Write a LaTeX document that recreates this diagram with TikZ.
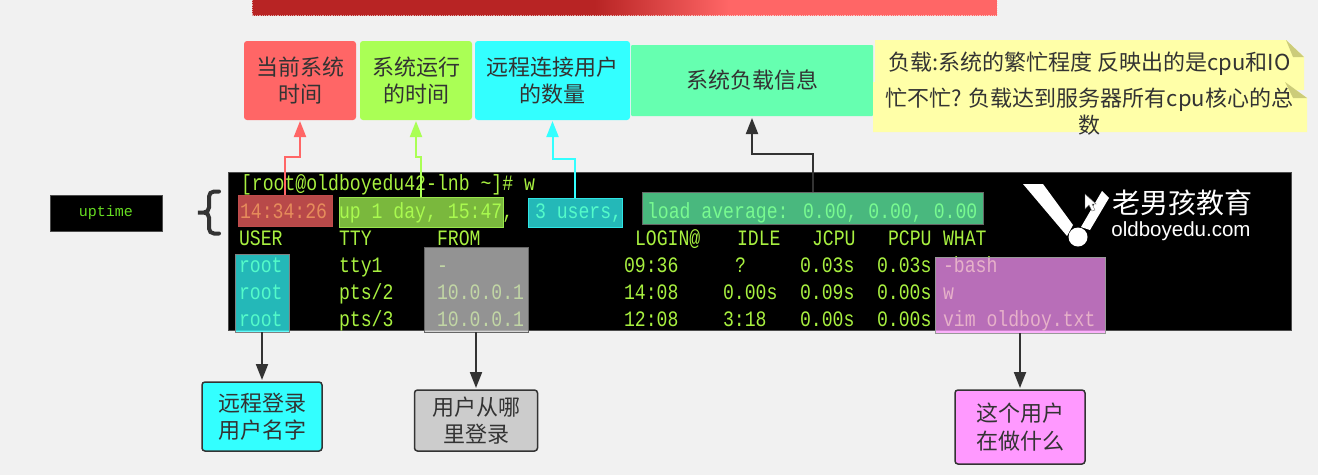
\documentclass[tikz,border=0pt]{standalone}
\usepackage{fontspec}
\setmainfont{Noto Sans CJK SC}
\newfontfamily\termfont[FakeStretch=0.825]{Liberation Mono}
\newfontfamily\upfont{Liberation Mono}
\newfontfamily\logofont{Liberation Sans}
\usetikzlibrary{arrows.meta,shapes.geometric}
\definecolor{bgc}{HTML}{F1F1F1}
\definecolor{ink}{HTML}{333333}
\definecolor{termgreen}{HTML}{A8F040}
\definecolor{cred}{HTML}{FF6666}
\definecolor{cgreen}{HTML}{AAFF55}
\definecolor{ccyan}{HTML}{33FFFF}
\definecolor{cmint}{HTML}{66FFB0}
\definecolor{cnote}{HTML}{FFFFA8}
\definecolor{cfold}{HTML}{CCCC7A}
\definecolor{cgray}{HTML}{CCCCCC}
\definecolor{cpink}{HTML}{FF99FF}
\definecolor{cup}{HTML}{66DD22}
\definecolor{barA}{HTML}{B82424}
\definecolor{barC}{HTML}{FF6666}
\pgfdeclarehorizontalshading{barshade}{100bp}{color(0bp)=(barA);color(25bp)=(barA);color(48bp)=(barA);color(57bp)=(barC);color(100bp)=(barC)}
\tikzset{
  lab/.style={align=center,text=ink,inner sep=0pt,outer sep=0pt,rounded corners=3pt,
    font=\fontsize{22}{27.5}\selectfont},
  lowlab/.style={lab,draw=ink,line width=1.5pt},
  ov/.style={inner sep=0pt,outer sep=0pt,fill opacity=0.72,line width=1pt},
  termtext/.style={anchor=west,inner sep=0pt,outer sep=0pt,text=termgreen,text height=14pt,text depth=1pt,
    font=\termfont\fontsize{22}{22}\selectfont},
  link/.style={line width=2pt,-{Triangle[length=16pt,width=12pt]},shorten >=1pt},
  darklink/.style={link,color=ink,shorten >=2pt},
  notetext/.style={align=center,text=ink,inner sep=0pt,font=\fontsize{22}{26.5}\selectfont},
}
\newcommand{\tl}[4]{\node[termtext] (#1) at (#2,#3) {#4};}
\begin{document}
\begin{tikzpicture}[x=1pt,y=-1pt]
\useasboundingbox (0,0) rectangle (1318,475);
\fill[bgc] (0,0) rectangle (1318,475);
% top bar
\shade[shading=barshade] (252,0) rectangle (997,15);
\draw[white,opacity=.6,densely dotted,line width=.8pt] (252,0) -- (252,15) -- (997,15) -- (997,0);
% terminal
\node[fill=black,draw=black!70,line width=1pt,inner sep=0pt,minimum width=1063pt,minimum height=158pt] (term) at (760,251) {};
\tl{p}{241}{184}{[root@oldboyedu42-lnb \textasciitilde]\# w}
\tl{a1}{240}{212}{14:34:26}
\tl{a2}{339}{212}{up 1 day, 15:47,}
\tl{a3}{535}{212}{3 users,}
\tl{a4}{647}{212}{load average: 0.00, 0.00, 0.00}
\tl{h1}{239}{238.5}{USER}
\tl{h2}{339}{238.5}{TTY}
\tl{h3}{437}{238.5}{FROM}
\tl{h4}{635}{238.5}{LOGIN@}
\tl{h5}{737}{238.5}{IDLE}
\tl{h6}{812}{238.5}{JCPU}
\tl{h7}{888}{238.5}{PCPU}
\tl{h8}{943}{238.5}{WHAT}
\tl{r1a}{239}{266}{root}
\tl{r1b}{339}{266}{tty1}
\tl{r1c}{437}{266}{-}
\tl{r1d}{624}{266}{09:36}
\tl{r1e}{735}{266}{?}
\tl{r1f}{800}{266}{0.03s}
\tl{r1g}{877}{266}{0.03s}
\tl{r1h}{943}{266}{-bash}
\tl{r2a}{239}{293}{root}
\tl{r2b}{339}{293}{pts/2}
\tl{r2c}{437}{293}{10.0.0.1}
\tl{r2d}{624}{293}{14:08}
\tl{r2e}{723}{293}{0.00s}
\tl{r2f}{800}{293}{0.09s}
\tl{r2g}{877}{293}{0.00s}
\tl{r2h}{943}{293}{w}
\tl{r3a}{239}{319.5}{root}
\tl{r3b}{339}{319.5}{pts/3}
\tl{r3c}{437}{319.5}{10.0.0.1}
\tl{r3d}{624}{319.5}{12:08}
\tl{r3e}{723}{319.5}{3:18}
\tl{r3f}{800}{319.5}{0.00s}
\tl{r3g}{877}{319.5}{0.00s}
\tl{r3h}{943}{319.5}{vim oldboy.txt}
% logo
\fill[white] (1023,184) -- (1043,184) -- (1073,225) -- (1067,236) -- cycle;
\fill[white] (1102,191) -- (1109,198) -- (1090,230) -- (1081,227) -- cycle;
\fill[white] (1078,237) circle (9.5);
\node[text=white,inner sep=0pt,font=\fontsize{28}{28}\selectfont] (logoa) at (1182,203) {老男孩教育};
\node[text=white,inner sep=0pt,font=\logofont\fontsize{20.5}{20.5}\selectfont] (logob) at (1181,231) {oldboyedu.com};
\filldraw[fill=white,draw=black!60,line width=.4pt] (1085,194) -- (1085,209) -- (1089,205) -- (1092,211) -- (1095,210) -- (1092,204) -- (1096,204) -- cycle;
% overlays
\node[ov,fill=cred,draw=cred!75!black,minimum width=94pt,minimum height=31pt] (ovred) at (285,210.5) {};
\node[ov,fill=cgreen,draw=cgreen!90!black,minimum width=164pt,minimum height=30pt] (ovgreen) at (421,212) {};
\node[ov,fill=ccyan,draw=ccyan!90!black,minimum width=94pt,minimum height=29pt] (ovcyan) at (575,212.5) {};
\node[ov,fill=cmint,draw=black!60,minimum width=341pt,minimum height=32pt] (ovload) at (812.5,208) {};
\node[ov,fill=ccyan,draw=black!50,minimum width=54pt,minimum height=78pt] (ovuser) at (262,293) {};
\node[ov,fill=cgray,draw=black!60,minimum width=104pt,minimum height=85pt] (ovfrom) at (476,289.5) {};
\node[ov,fill=cpink,draw=black!40,minimum width=170pt,minimum height=76pt] (ovwhat) at (1020,295) {};
% labels
\node[lab,fill=cred,minimum width=112pt,minimum height=79pt] (lred) at (300,80.5) {当前系统\\时间};
\node[lab,fill=cgreen,minimum width=112pt,minimum height=79pt] (lgreen) at (416,80.5) {系统运行\\的时间};
\node[lab,fill=ccyan,minimum width=155pt,minimum height=79pt] (lcyan) at (552.5,80.5) {远程连接用户\\的数量};
\node[lab,fill=cmint,rounded corners=1pt,minimum width=242pt,minimum height=71pt] (lmint) at (752,80.5) {\raisebox{-2pt}{系统负载信息}};
% notes
\fill[cnote] (875,40) -- (1286,40) -- (1304,57) -- (1304,90) -- (875,90) -- cycle;
\fill[cfold] (1286,40) -- (1304,57) -- (1293,57) -- cycle;
\fill[cnote] (873,82) -- (1285,82) -- (1307,98) -- (1307,132) -- (873,132) -- cycle;
\fill[cfold] (1285,82) -- (1307,98) -- (1293,98) -- cycle;
\node[notetext] (note1) at (1089.5,64) {负载:系统的繁忙程度 反映出的是cpu和IO};
\node[notetext,anchor=north] (note2) at (1089.5,88) {忙不忙? 负载达到服务器所有cpu核心的总\\数};
\node[lowlab,fill=ccyan,minimum width=120pt,minimum height=69pt] (lcuser) at (262,416.5) {远程登录\\用户名字};
\node[lowlab,fill=cgray,minimum width=123pt,minimum height=61pt] (lcfrom) at (476,420.5) {用户从哪\\里登录};
\node[lowlab,fill=cpink,minimum width=130pt,minimum height=74pt] (lcwhat) at (1020,427) {这个用户\\在做什么};
% uptime
\node[fill=black,draw=black!70,line width=1pt,text=cup,inner sep=0pt,minimum width=112pt,minimum height=36pt,font=\upfont\fontsize{15}{15}\selectfont] (up) at (106,213) {uptime};
% brace
\draw[ink,line width=4pt,line cap=round,rounded corners=5pt]
  (219,191.5) -- (209,191.5) -- (209,212.5) -- (195,212.5) -- (209,212.5) -- (209,233.5) -- (219,233.5);
% connectors
\draw[link,color=cred] (ovred.north) -- ++(0,-38) -| (lred.south);
\draw[link,color=cgreen] (ovgreen.north) -- ++(0,-40) -| (lgreen.south);
\draw[link,color=ccyan] (ovcyan.north) -- ++(0,-39) -| (lcyan.south);
\draw[darklink] (ovload.north) -- ++(0,-38) -| (lmint.south);
\draw[darklink] (ovuser.south) -- (lcuser.north);
\draw[darklink] (ovfrom.south) -- (lcfrom.north);
\draw[darklink] (ovwhat.south) -- (lcwhat.north);
\end{tikzpicture}
\end{document}
